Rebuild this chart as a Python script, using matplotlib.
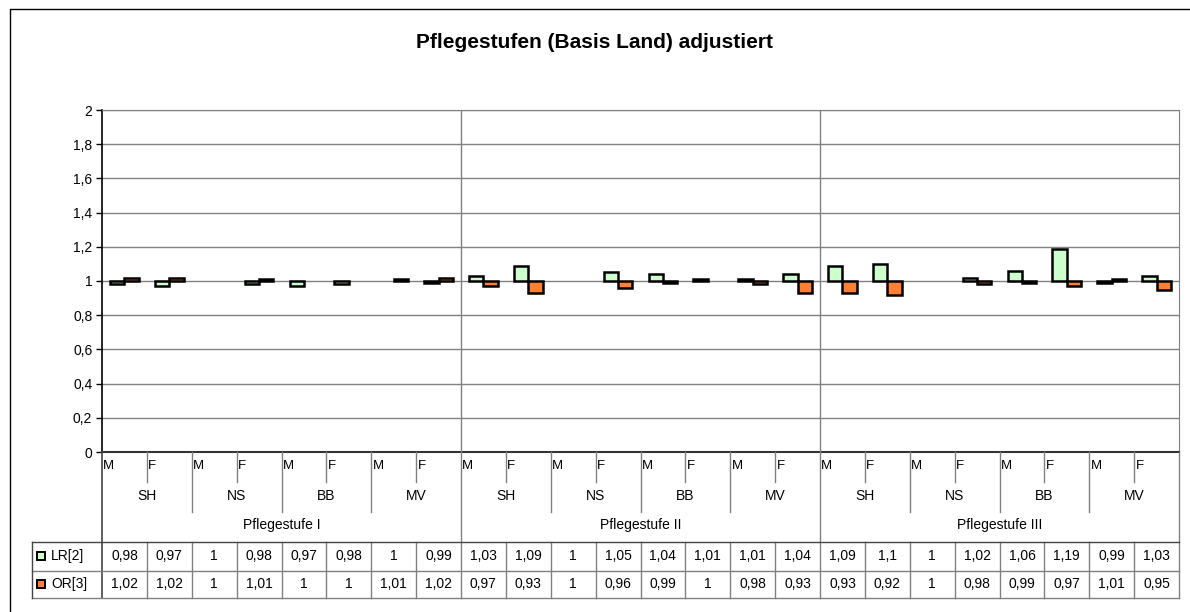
import matplotlib
matplotlib.use("Agg")
import matplotlib.pyplot as plt
from matplotlib.lines import Line2D
from matplotlib.patches import Rectangle
from matplotlib.transforms import blended_transform_factory

plt.rcParams['font.family'] = ['Liberation Sans', 'DejaVu Sans']

title = "Pflegestufen (Basis Land) adjustiert"
sexes = ["M", "F"]
states = ["SH", "NS", "BB", "MV"]
stufen = ["Pflegestufe I", "Pflegestufe II", "Pflegestufe III"]
series_names = ["LR[2]", "OR[3]"]
lr = [0.98, 0.97, 1, 0.98, 0.97, 0.98, 1, 0.99,
      1.03, 1.09, 1, 1.05, 1.04, 1.01, 1.01, 1.04,
      1.09, 1.1, 1, 1.02, 1.06, 1.19, 0.99, 1.03]
orr = [1.02, 1.02, 1, 1.01, 1, 1, 1.01, 1.02,
       0.97, 0.93, 1, 0.96, 0.99, 1, 0.98, 0.93,
       0.93, 0.92, 1, 0.98, 0.99, 0.97, 1.01, 0.95]
yticks = [0, 0.2, 0.4, 0.6, 0.8, 1, 1.2, 1.4, 1.6, 1.8, 2]

W, H = 1190, 612
GREEN = "#ccffcc"
ORANGE = "#ff8033"
GRID = "#808080"
FS = 10


def fy(y):
    return 1 - y / H


def fmt(v):
    return ("%g" % v).replace(".", ",")


fig = plt.figure(figsize=(W / 100, H / 100), dpi=100)
L, R, T, B = 102, 1179, 110, 452
ax = fig.add_axes([L / W, fy(B), (R - L) / W, (B - T) / H])

n = len(lr)
x = list(range(n))
bw = 0.32
# bars hang from the 1-line; value 1 means no visible bar
for vals, off, col in [(lr, -bw / 2, GREEN), (orr, bw / 2, ORANGE)]:
    edges = ["none" if v == 1 else "black" for v in vals]
    ax.bar([i + off for i in x], [v - 1 for v in vals], bottom=1, width=bw,
           color=col, edgecolor=edges, linewidth=1.8, zorder=3)

ax.set_xlim(-0.5, n - 0.5)
ax.set_ylim(0, 2)
ax.set_yticks(yticks)
ax.set_yticklabels([fmt(t) for t in yticks], fontsize=FS)
ax.set_xticks([])
ax.tick_params(axis="y", length=4, width=1, pad=3)
for t in yticks[1:]:
    ax.axhline(t, color=GRID, lw=1, zorder=1)
for s in ["top", "right"]:
    ax.spines[s].set_color(GRID)
ax.spines["left"].set_linewidth(1.2)
ax.spines["bottom"].set_linewidth(1.5)
ax.spines["bottom"].set_color("#333333")

tr = blended_transform_factory(ax.transData, fig.transFigure)


def vline(xd, y0, y1, color=GRID, lw=1):
    fig.add_artist(Line2D([xd, xd], [fy(y0), fy(y1)], transform=tr, color=color, lw=lw))


# category axis labels
TABLE_TOP, ROW_MID, TABLE_BOT = 542, 571, 598
for i in range(n):
    xl = i - 0.5
    ax.text(xl + 0.03, fy(466), sexes[i % 2], transform=tr, fontsize=FS - 0.5, va="center", ha="left")
    if i == 0:
        continue
    if i % 8 == 0:
        vline(xl, T, TABLE_BOT)
    elif i % 2 == 0:
        vline(xl, B, 512)
        vline(xl, TABLE_TOP, TABLE_BOT)
    else:
        vline(xl, B, 482)
        vline(xl, TABLE_TOP, TABLE_BOT)

for k, st in enumerate(states * 3):
    ax.text(2 * k + 0.5, fy(496), st, transform=tr, fontsize=FS, ha="center", va="center")
for k, st in enumerate(stufen):
    ax.text(8 * k + 3.5, fy(525), st, transform=tr, fontsize=FS, ha="center", va="center")

# data table
vline(-0.5, B, TABLE_BOT, color="#444444", lw=1.2)
vline(n - 0.5, B, TABLE_BOT)
for yy, c in [(TABLE_TOP, "#444444"), (ROW_MID, GRID), (TABLE_BOT, GRID)]:
    fig.add_artist(Line2D([32 / W, R / W], [fy(yy), fy(yy)], color=c, lw=1))
fig.add_artist(Line2D([32 / W, 32 / W], [fy(TABLE_TOP), fy(TABLE_BOT)], color="#444444", lw=1))

for r, (name, vals, col) in enumerate(zip(series_names, [lr, orr], [GREEN, ORANGE])):
    yc = (TABLE_TOP + 14) if r == 0 else (ROW_MID + 13)
    fig.add_artist(Rectangle((37 / W, fy(yc + 4)), 8 / W, 8 / H, facecolor=col,
                             edgecolor="black", lw=1.4, transform=fig.transFigure))
    fig.text(51 / W, fy(yc), name, fontsize=FS, va="center", ha="left")
    for i, v in enumerate(vals):
        ax.text(i, fy(yc), fmt(v), transform=tr, fontsize=FS, ha="center", va="center")

fig.text(0.5, fy(43), title, fontsize=15, fontweight="bold", ha="center", va="center")

# outer frame
fig.add_artist(Line2D([10 / W, 10 / W, 1189 / W], [0, fy(9), fy(9)], color="black", lw=1))

fig.savefig("out.png", dpi=100)
